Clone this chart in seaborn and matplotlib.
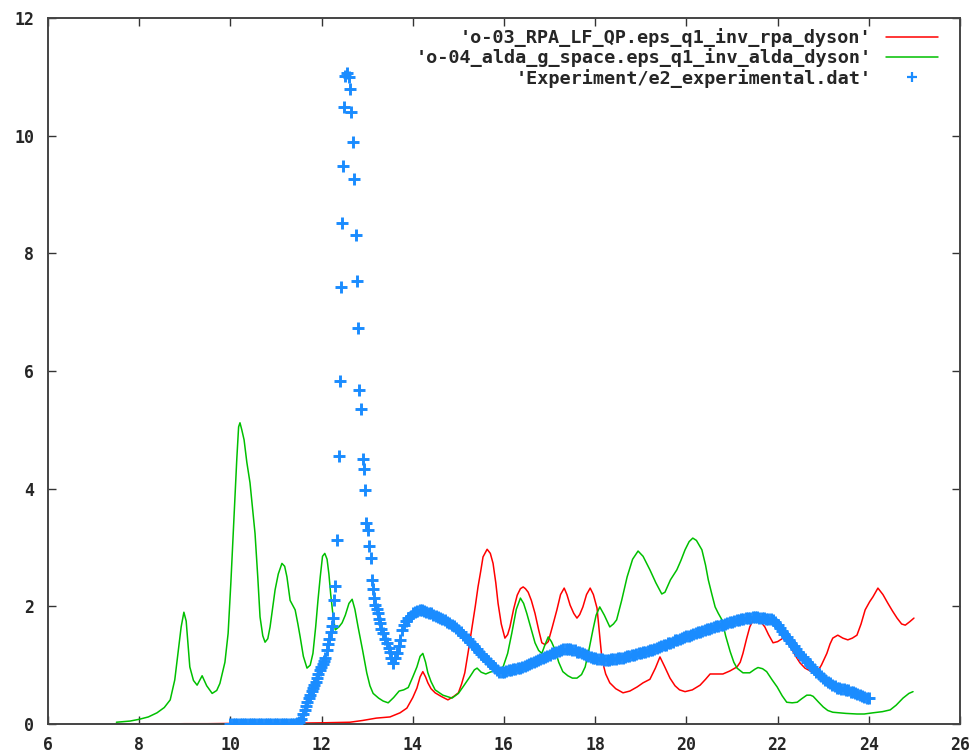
import matplotlib
matplotlib.use("Agg")
import matplotlib.pyplot as plt
from matplotlib.lines import Line2D
import seaborn as sns

# ---------------- data ----------------
rpa_x = [7.50, 8.00, 8.50, 9.00, 9.50, 10.00, 10.50, 11.00, 11.60, 12.00,
         12.62, 12.90, 13.20, 13.50, 13.72, 13.87, 14.00, 14.09, 14.16, 14.22,
         14.28, 14.33, 14.40, 14.49, 14.62, 14.77, 14.90, 15.00, 15.07, 15.14,
         15.22, 15.30, 15.37, 15.43, 15.49, 15.54, 15.63, 15.70, 15.76, 15.82,
         15.87, 15.94, 16.02, 16.08, 16.13, 16.21, 16.29, 16.36, 16.42, 16.47,
         16.53, 16.60, 16.68, 16.76, 16.83, 16.90, 16.97, 17.06, 17.16, 17.24,
         17.32, 17.38, 17.45, 17.53, 17.60, 17.66, 17.73, 17.81, 17.89, 17.96,
         18.04, 18.10, 18.15, 18.23, 18.32, 18.45, 18.61, 18.76, 18.92, 19.05,
         19.20, 19.32, 19.42, 19.52, 19.64, 19.75, 19.85, 19.97, 20.13, 20.30,
         20.42, 20.52, 20.65, 20.80, 20.95, 21.11, 21.18, 21.24, 21.32, 21.39,
         21.50, 21.62, 21.72, 21.80, 21.90, 22.00, 22.12, 22.22, 22.32, 22.40,
         22.49, 22.60, 22.72, 22.86, 22.96, 23.08, 23.15, 23.21, 23.32, 23.43,
         23.54, 23.64, 23.74, 23.83, 23.92, 24.02, 24.09, 24.20, 24.31, 24.42,
         24.52, 24.62, 24.72, 24.80, 24.90, 24.99]
rpa_y = [0.000, 0.000, 0.000, 0.005, 0.005, 0.010, 0.010, 0.010, 0.015, 0.020,
         0.03, 0.06, 0.10, 0.12, 0.19, 0.27, 0.45, 0.61, 0.80, 0.89,
         0.80, 0.70, 0.60, 0.53, 0.47, 0.41, 0.47, 0.53, 0.68, 0.87,
         1.25, 1.65, 2.00, 2.33, 2.60, 2.84, 2.97, 2.90, 2.73, 2.40,
         2.05, 1.70, 1.46, 1.52, 1.65, 1.95, 2.19, 2.30, 2.33, 2.30,
         2.24, 2.10, 1.88, 1.60, 1.38, 1.35, 1.40, 1.65, 1.94, 2.20,
         2.31, 2.20, 2.02, 1.88, 1.80, 1.86, 1.99, 2.20, 2.31, 2.20,
         1.97, 1.50, 1.09, 0.85, 0.70, 0.60, 0.53, 0.56, 0.63, 0.70,
         0.76, 0.95, 1.14, 0.98, 0.78, 0.65, 0.58, 0.55, 0.58, 0.66,
         0.76, 0.85, 0.85, 0.85, 0.90, 0.97, 1.05, 1.20, 1.45, 1.65,
         1.82, 1.75, 1.65, 1.52, 1.38, 1.40, 1.46, 1.38, 1.26, 1.15,
         1.04, 0.95, 0.90, 0.87, 1.00, 1.20, 1.36, 1.46, 1.51, 1.46,
         1.43, 1.46, 1.51, 1.70, 1.94, 2.08, 2.16, 2.31, 2.20, 2.05,
         1.92, 1.80, 1.70, 1.68, 1.74, 1.80]

alda_x = [7.50, 7.80, 8.00, 8.20, 8.39, 8.55, 8.68, 8.78, 8.85, 8.92,
          8.98, 9.03, 9.11, 9.19, 9.27, 9.38, 9.48, 9.60, 9.70, 9.77,
          9.88, 9.95, 10.01, 10.06, 10.14, 10.18, 10.21, 10.25, 10.30, 10.36,
          10.43, 10.54, 10.60, 10.65, 10.71, 10.76, 10.82, 10.87, 10.93, 10.98,
          11.05, 11.13, 11.19, 11.24, 11.31, 11.42, 11.48, 11.53, 11.60, 11.68,
          11.75, 11.81, 11.87, 11.92, 11.97, 12.02, 12.07, 12.12, 12.16, 12.20,
          12.25, 12.30, 12.38, 12.45, 12.52, 12.60, 12.67, 12.73, 12.80, 12.90,
          12.99, 13.06, 13.13, 13.25, 13.35, 13.46, 13.58, 13.70, 13.80, 13.90,
          14.00, 14.09, 14.16, 14.22, 14.28, 14.33, 14.40, 14.49, 14.66, 14.86,
          15.00, 15.10, 15.25, 15.35, 15.41, 15.50, 15.60, 15.69, 15.85, 15.98,
          16.08, 16.17, 16.27, 16.36, 16.43, 16.50, 16.60, 16.68, 16.76, 16.83,
          16.90, 16.97, 17.04, 17.12, 17.20, 17.29, 17.40, 17.50, 17.60, 17.70,
          17.78, 17.86, 17.95, 18.02, 18.10, 18.20, 18.32, 18.40, 18.47, 18.58,
          18.70, 18.82, 18.94, 19.05, 19.20, 19.33, 19.46, 19.53, 19.65, 19.79,
          19.88, 19.97, 20.06, 20.14, 20.22, 20.34, 20.42, 20.48, 20.56, 20.63,
          20.70, 20.78, 20.86, 20.96, 21.04, 21.11, 21.24, 21.39, 21.50, 21.57,
          21.67, 21.76, 21.88, 21.99, 22.10, 22.20, 22.32, 22.43, 22.53, 22.64,
          22.72, 22.78, 22.90, 23.00, 23.10, 23.21, 23.50, 23.74, 23.90, 24.09,
          24.30, 24.47, 24.60, 24.75, 24.88, 24.97]
alda_y = [0.03, 0.05, 0.08, 0.12, 0.19, 0.28, 0.41, 0.75, 1.20, 1.65,
          1.90, 1.75, 0.97, 0.74, 0.66, 0.82, 0.65, 0.52, 0.57, 0.69,
          1.05, 1.54, 2.40, 3.20, 4.50, 5.05, 5.12, 5.00, 4.83, 4.45,
          4.10, 3.24, 2.50, 1.82, 1.50, 1.39, 1.45, 1.65, 2.00, 2.28,
          2.55, 2.73, 2.68, 2.50, 2.10, 1.94, 1.70, 1.48, 1.15, 0.95,
          1.00, 1.20, 1.65, 2.10, 2.50, 2.85, 2.90, 2.80, 2.55, 2.20,
          1.85, 1.60, 1.65, 1.72, 1.85, 2.05, 2.12, 1.95, 1.65, 1.25,
          0.87, 0.65, 0.52, 0.44, 0.39, 0.36, 0.45, 0.56, 0.58, 0.62,
          0.80, 0.97, 1.15, 1.20, 1.05, 0.87, 0.72, 0.58, 0.49, 0.44,
          0.52, 0.63, 0.80, 0.92, 0.95, 0.88, 0.85, 0.88, 0.92, 0.97,
          1.20, 1.54, 1.95, 2.14, 2.05, 1.88, 1.60, 1.38, 1.25, 1.20,
          1.35, 1.48, 1.40, 1.26, 1.05, 0.89, 0.82, 0.78, 0.78, 0.84,
          0.97, 1.25, 1.60, 1.85, 1.99, 1.85, 1.65, 1.70, 1.77, 2.10,
          2.50, 2.80, 2.94, 2.85, 2.62, 2.40, 2.21, 2.24, 2.45, 2.62,
          2.78, 2.96, 3.10, 3.16, 3.12, 2.96, 2.70, 2.45, 2.20, 1.99,
          1.88, 1.77, 1.50, 1.23, 1.05, 0.95, 0.87, 0.87, 0.93, 0.96,
          0.94, 0.89, 0.75, 0.63, 0.48, 0.37, 0.36, 0.37, 0.43, 0.49,
          0.49, 0.47, 0.37, 0.29, 0.23, 0.20, 0.18, 0.17, 0.17, 0.19,
          0.21, 0.24, 0.32, 0.44, 0.52, 0.55]

exp_x = [10.00, 10.05, 10.10, 10.15, 10.20, 10.25, 10.30, 10.35, 10.40, 10.45,
         10.50, 10.55, 10.60, 10.65, 10.70, 10.75, 10.80, 10.85, 10.90, 10.95,
         11.00, 11.05, 11.10, 11.15, 11.20, 11.25, 11.30, 11.35, 11.40, 11.45,
         11.50, 11.55, 11.60, 11.63, 11.66, 11.69, 11.72, 11.75, 11.78, 11.81,
         11.84, 11.87, 11.90, 11.93, 11.96, 11.99, 12.02, 12.05, 12.08, 12.11,
         12.14, 12.17, 12.20, 12.23, 12.26, 12.28, 12.30, 12.34, 12.38, 12.40,
         12.43, 12.44, 12.46, 12.49, 12.52, 12.55, 12.59, 12.62, 12.65, 12.68,
         12.72, 12.75, 12.77, 12.79, 12.82, 12.86, 12.90, 12.93, 12.95, 12.97,
         13.01, 13.04, 13.08, 13.10, 13.12, 13.15, 13.18, 13.21, 13.24, 13.26,
         13.28, 13.31, 13.35, 13.39, 13.43, 13.47, 13.50, 13.53, 13.57, 13.61,
         13.65, 13.69, 13.72, 13.76, 13.80, 13.85, 13.90, 13.95, 14.00, 14.05,
         14.10, 14.15, 14.20, 14.25, 14.30, 14.35, 14.40, 14.45, 14.50, 14.55,
         14.60, 14.65, 14.70, 14.75, 14.80, 14.85, 14.90, 14.95, 15.00, 15.05,
         15.10, 15.15, 15.20, 15.25, 15.30, 15.35, 15.40, 15.45, 15.50, 15.55,
         15.60, 15.65, 15.70, 15.75, 15.80, 15.85, 15.90, 15.95, 16.00, 16.05,
         16.10, 16.15, 16.20, 16.25, 16.30, 16.35, 16.40, 16.45, 16.50, 16.55,
         16.60, 16.65, 16.70, 16.75, 16.80, 16.85, 16.90, 16.95, 17.00, 17.05,
         17.10, 17.15, 17.20, 17.25, 17.30, 17.35, 17.40, 17.45, 17.50, 17.55,
         17.60, 17.65, 17.70, 17.75, 17.80, 17.85, 17.90, 17.95, 18.00, 18.05,
         18.10, 18.15, 18.20, 18.25, 18.30, 18.35, 18.40, 18.45, 18.50, 18.55,
         18.60, 18.65, 18.70, 18.75, 18.80, 18.85, 18.90, 18.95, 19.00, 19.05,
         19.10, 19.15, 19.20, 19.25, 19.30, 19.35, 19.40, 19.45, 19.50, 19.55,
         19.60, 19.65, 19.70, 19.75, 19.80, 19.85, 19.90, 19.95, 20.00, 20.05,
         20.10, 20.15, 20.20, 20.25, 20.30, 20.35, 20.40, 20.45, 20.50, 20.55,
         20.60, 20.65, 20.70, 20.75, 20.80, 20.85, 20.90, 20.95, 21.00, 21.05,
         21.10, 21.15, 21.20, 21.25, 21.30, 21.35, 21.40, 21.45, 21.50, 21.55,
         21.60, 21.65, 21.70, 21.75, 21.80, 21.85, 21.90, 21.95, 22.00, 22.05,
         22.10, 22.15, 22.20, 22.25, 22.30, 22.35, 22.40, 22.45, 22.50, 22.55,
         22.60, 22.65, 22.70, 22.75, 22.80, 22.85, 22.90, 22.95, 23.00, 23.05,
         23.10, 23.15, 23.20, 23.25, 23.30, 23.35, 23.40, 23.45, 23.50, 23.55,
         23.60, 23.65, 23.70, 23.75, 23.80, 23.85, 23.90, 23.95, 24.00]
exp_y = [0.00, 0.00, 0.00, 0.00, 0.00, 0.00, 0.00, 0.00, 0.00, 0.00,
         0.00, 0.00, 0.00, 0.00, 0.00, 0.00, 0.00, 0.00, 0.00, 0.00,
         0.00, 0.00, 0.00, 0.00, 0.00, 0.00, 0.00, 0.00, 0.00, 0.01,
         0.03, 0.08, 0.17, 0.24, 0.31, 0.38, 0.44, 0.50, 0.56, 0.62,
         0.67, 0.72, 0.78, 0.85, 0.92, 0.97, 1.02, 1.07, 1.12, 1.25,
         1.36, 1.45, 1.56, 1.66, 1.80, 2.10, 2.35, 3.13, 4.55, 5.83,
         7.43, 8.52, 9.48, 10.48, 11.02, 11.06, 11.00, 10.79, 10.41, 9.90,
         9.26, 8.31, 7.53, 6.73, 5.68, 5.36, 4.51, 4.34, 3.98, 3.42,
         3.30, 3.03, 2.82, 2.45, 2.30, 2.15, 2.02, 1.95, 1.88, 1.79,
         1.71, 1.62, 1.54, 1.45, 1.37, 1.30, 1.23, 1.13, 1.03, 1.12,
         1.20, 1.33, 1.43, 1.60, 1.68, 1.75, 1.80, 1.84, 1.88, 1.90,
         1.92, 1.93, 1.93, 1.92, 1.91, 1.89, 1.88, 1.86, 1.84, 1.82,
         1.80, 1.78, 1.76, 1.74, 1.72, 1.69, 1.66, 1.63, 1.60, 1.56,
         1.52, 1.48, 1.44, 1.40, 1.36, 1.32, 1.27, 1.23, 1.19, 1.15,
         1.11, 1.07, 1.03, 0.99, 0.95, 0.91, 0.89, 0.88, 0.89, 0.90,
         0.91, 0.92, 0.93, 0.94, 0.95, 0.96, 0.97, 0.98, 1.00, 1.02,
         1.04, 1.06, 1.07, 1.09, 1.10, 1.12, 1.14, 1.16, 1.18, 1.20,
         1.21, 1.23, 1.24, 1.26, 1.27, 1.27, 1.27, 1.27, 1.26, 1.25,
         1.23, 1.22, 1.21, 1.19, 1.17, 1.16, 1.14, 1.13, 1.12, 1.11,
         1.10, 1.10, 1.09, 1.09, 1.09, 1.10, 1.10, 1.11, 1.12, 1.12,
         1.13, 1.14, 1.15, 1.16, 1.17, 1.18, 1.19, 1.20, 1.21, 1.22,
         1.23, 1.24, 1.25, 1.26, 1.28, 1.29, 1.31, 1.33, 1.34, 1.35,
         1.37, 1.38, 1.40, 1.42, 1.43, 1.45, 1.46, 1.48, 1.49, 1.50,
         1.52, 1.53, 1.55, 1.56, 1.57, 1.58, 1.60, 1.61, 1.62, 1.63,
         1.65, 1.66, 1.67, 1.68, 1.69, 1.70, 1.72, 1.73, 1.74, 1.75,
         1.76, 1.77, 1.78, 1.79, 1.80, 1.80, 1.81, 1.82, 1.82, 1.82,
         1.81, 1.80, 1.80, 1.79, 1.79, 1.78, 1.77, 1.73, 1.68, 1.63,
         1.58, 1.53, 1.48, 1.43, 1.38, 1.33, 1.28, 1.23, 1.18, 1.14,
         1.10, 1.05, 1.01, 0.97, 0.93, 0.89, 0.85, 0.82, 0.78, 0.75,
         0.72, 0.69, 0.66, 0.64, 0.62, 0.61, 0.60, 0.59, 0.58, 0.57,
         0.55, 0.54, 0.52, 0.51, 0.49, 0.48, 0.46, 0.45, 0.44]

labels = ["'o-03_RPA_LF_QP.eps_q1_inv_rpa_dyson'",
          "'o-04_alda_g_space.eps_q1_inv_alda_dyson'",
          "'Experiment/e2_experimental.dat'"]
colors = ["#ff0000", "#00c000", "#1a8cff"]
x_ticks = [6, 8, 10, 12, 14, 16, 18, 20, 22, 24, 26]
y_ticks = [0, 2, 4, 6, 8, 10, 12]

# ---------------- style ----------------
sns.set_style("ticks")
plt.rcParams["font.family"] = ["DejaVu Sans Mono", "DejaVu Sans"]
plt.rcParams["font.weight"] = "bold"

fig = plt.figure(figsize=(9.79, 7.56), dpi=100)
ax = fig.add_axes([48 / 979, 32 / 756, (960 - 48) / 979, (724 - 18) / 756])

sns.lineplot(x=rpa_x, y=rpa_y, ax=ax, color=colors[0], lw=1.1,
             sort=False, estimator=None)
sns.lineplot(x=alda_x, y=alda_y, ax=ax, color=colors[1], lw=1.1,
             sort=False, estimator=None)
sns.scatterplot(x=exp_x, y=exp_y, ax=ax, color=colors[2], marker="+",
                s=75, linewidth=2.1, zorder=3)

ax.set_xlim(6, 26)
ax.set_ylim(0, 12)
ax.set_xticks(x_ticks)
ax.set_yticks(y_ticks)
ax.set_xticklabels([str(v) for v in x_ticks], fontsize=12, fontweight="bold")
ax.set_yticklabels([str(v) for v in y_ticks], fontsize=12, fontweight="bold")
ax.tick_params(direction="in", length=6, width=1, color="#333333",
               top=True, right=True, labeltop=False, labelright=False)
ax.tick_params(axis="x", pad=9)
ax.tick_params(axis="y", pad=10)
for sp in ax.spines.values():
    sp.set_color("#444444")
    sp.set_linewidth(1.4)
    sp.set_visible(True)

handles = [Line2D([], [], color=colors[0], lw=1.1),
           Line2D([], [], color=colors[1], lw=1.1),
           Line2D([], [], color=colors[2], lw=0, marker="+", ms=7.5, mew=1.6)]
leg = fig.legend(handles, labels, loc="upper right",
                 bbox_to_anchor=(938 / 979, (756 - 28) / 756),
                 frameon=False, markerfirst=False, borderpad=0,
                 borderaxespad=0, handlelength=2.8, handletextpad=0.8,
                 labelspacing=0.08, prop={"size": 13.3, "weight": "bold",
                                          "family": "DejaVu Sans Mono"})

fig.savefig("out.png", dpi=100)
